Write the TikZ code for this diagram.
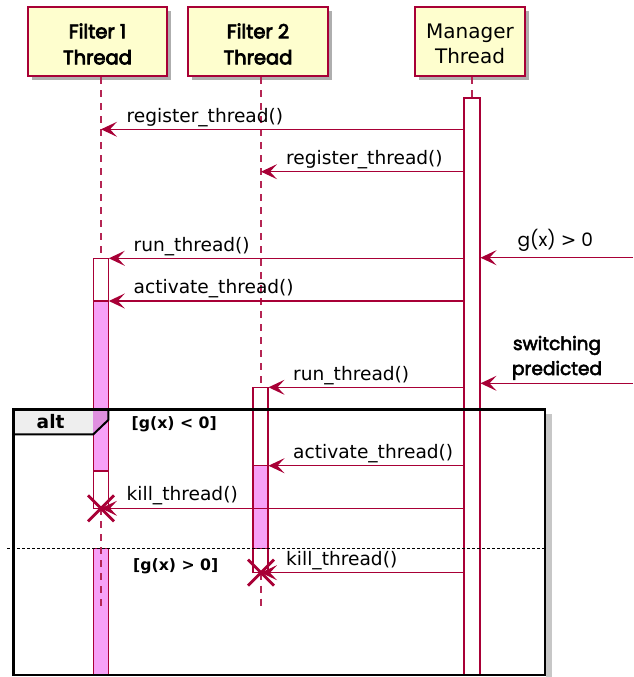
\documentclass[tikz,border=0pt]{standalone}
\usepackage{fontspec}
\setmainfont{DejaVu Sans}
\newfontfamily\pop{Poppins}[Numbers=Lining]
\newfontfamily\popm{Poppins}[FakeBold=3]
\newfontfamily\popb{Poppins}[FakeBold=4]
\usetikzlibrary{arrows.meta,shadows}
\definecolor{crim}{HTML}{A80036}
\definecolor{pfill}{HTML}{FEFECE}
\definecolor{actpink}{HTML}{F7A1F7}
\definecolor{actpinkdk}{HTML}{E090E0}
\definecolor{hdrgray}{HTML}{EEEEEE}
\tikzset{
  part/.style={draw=crim, line width=2pt, fill=pfill, inner sep=0pt,
    drop shadow={shadow xshift=4pt, shadow yshift=-4pt, opacity=.45, fill=black!70}},
  ptext/.style={align=center, inner sep=0pt},
  lifeline/.style={draw=crim!85, line width=1.4pt, dash pattern=on 7pt off 6pt},
  actbar/.style={draw=crim, line width=1.2pt, fill=white},
  pinkbar/.style={draw=crim, line width=1.2pt, fill=actpink},
  msg/.style={draw=crim, line width=1.4pt, -{Stealth[length=16pt, width=15pt, inset=7pt]}},
  lbl/.style={anchor=base west, inner sep=0pt, font=\fontsize{18.6}{22}\selectfont},
  guard/.style={anchor=base west, inner sep=0pt, font=\bfseries\fontsize{15.7}{19}\selectfont},
  killx/.style={draw=crim, line width=2.8pt},
}
\begin{document}
\begin{tikzpicture}[x=1pt,y=-1pt]
\useasboundingbox (0,0) rectangle (633,677);
% participants
\node[part, minimum width=139pt, minimum height=69pt] (p1) at (97.5,41.5) {};
\node[part, minimum width=140pt, minimum height=69pt] (p2) at (258,41.5) {};
\node[part, minimum width=110pt, minimum height=69pt] (pm) at (470,41.5) {};
\node[ptext, font=\popb\fontsize{19.5}{26}\selectfont] (p1t) at ([yshift=-2.5pt]p1.center) {Filter 1\\Thread};
\node[ptext, font=\popb\fontsize{19.5}{26}\selectfont] (p2t) at ([yshift=-2.5pt]p2.center) {Filter 2\\Thread};
\node[ptext, font=\fontsize{20}{25}\selectfont] (pmt) at ([yshift=-2pt]pm.center) {Manager\\Thread};
% lifelines
\coordinate (l1top) at (101,77);
\coordinate (l2top) at (261,77);
\coordinate (lmtop) at (472,77);
\coordinate (l1act) at (101,258.3);
\coordinate (l2act) at (261,387.3);
\coordinate (lmact) at (472,98);
\draw[lifeline] (l1top) -- (l1act);
\draw[lifeline] (l2top) -- (l2act);
\draw[lifeline] (lmtop) -- (lmact);
% frame shadow
\fill[black!22] (546,414) rectangle (551.5,677);
% activation bars
\draw[actbar] (464,98) rectangle (480,675);
\draw[actbar] (93.3,258.3) rectangle (108.3,508.3);
\draw[actbar] (253,387.3) rectangle (268,572.7);
\draw[pinkbar] (93.3,301) rectangle (108.3,471);
\draw[pinkbar] (253,465.7) rectangle (268,548.3);
\draw[pinkbar] (93.3,548.3) rectangle (108.3,675);
% alt frame
\fill[hdrgray] (13.3,409.3) -- (108.3,409.3) -- (108.3,420) -- (93.3,434.3) -- (13.3,434.3) -- cycle;
\begin{scope}
\clip (13.3,409.3) -- (108.3,409.3) -- (108.3,420) -- (93.3,434.3) -- (13.3,434.3) -- cycle;
\fill[actpinkdk] (93.3,409.3) rectangle (108.3,434.3);
\end{scope}
\draw[line width=2pt] (108.3,409.3) -- (108.3,420) -- (93.3,434.3) -- (13.3,434.3);
\draw[line width=2.8pt] (13.3,409.3) rectangle (545,675);
\node[anchor=base west, inner sep=0pt, font=\bfseries\fontsize{18.6}{22}\selectfont] (alt) at (36.5,428.3) {alt};
\node[guard] (g1) at (131.5,428.3) {[g(x) < 0]};
\draw[line width=1.2pt, dash pattern=on 2.5pt off 2.5pt] (7,548.3) -- (545,548.3);
\node[guard] (g2) at (133,570) {[g(x) > 0]};
% lifelines after destroy
\coordinate (x1) at (101,508.3);
\coordinate (x2) at (261,572.7);
\coordinate (e1) at (101,607);
\coordinate (e2) at (261,607);
\draw[lifeline] (x1) -- (e1);
\draw[lifeline] (x2) -- (e2);
% messages
\coordinate (m1) at (464,129.3); \coordinate (t1) at (101,129.3);
\draw[msg] (m1) -- (t1);
\node[lbl] (lb1) at (126.5,122) {register\_thread()};
\coordinate (m2) at (464,171.7); \coordinate (t2) at (261,171.7);
\draw[msg] (m2) -- (t2);
\node[lbl] (lb2) at (286,164.5) {register\_thread()};
\coordinate (in1) at (633,257.7); \coordinate (mi1) at (480.5,257.7);
\draw[msg] (in1) -- (mi1);
\node[anchor=base west, inner sep=0pt, font=\pop\fontsize{18.5}{22}\selectfont] (lg) at (517.5,246) {g(x) {\fontspec{DejaVu Sans}>} 0};
\coordinate (m3) at (464,258.3); \coordinate (t3) at (108.8,258.3);
\draw[msg] (m3) -- (t3);
\node[lbl] (lb3) at (133.5,251.2) {run\_thread()};
\coordinate (m4) at (464,301); \coordinate (t4) at (108.8,301);
\draw[msg] (m4) -- (t4);
\node[lbl] (lb4) at (133.5,293.8) {activate\_thread()};
\coordinate (in2) at (633,383.3); \coordinate (mi2) at (480.5,383.3);
\draw[msg] (in2) -- (mi2);
\node[inner sep=0pt, align=center, font=\popm\fontsize{18.5}{25}\selectfont, anchor=base] (ls) at (557,375) {switching\\predicted};
\coordinate (m5) at (464,387.3); \coordinate (t5) at (268.5,387.3);
\draw[msg] (m5) -- (t5);
\node[lbl] (lb5) at (293,380) {run\_thread()};
\coordinate (m6) at (464,465.7); \coordinate (t6) at (268.5,465.7);
\draw[msg] (m6) -- (t6);
\node[lbl] (lb6) at (293,458.3) {activate\_thread()};
\coordinate (m7) at (464,508.3);
\draw[msg] (m7) -- (x1);
\node[lbl] (lb7) at (126.5,500.8) {kill\_thread()};
\coordinate (m8) at (464,572.7);
\draw[msg] (m8) -- (x2);
\node[lbl] (lb8) at (286,565.2) {kill\_thread()};
% destroy marks
\draw[killx] ([shift={(-13,-13)}]x1) -- ([shift={(13,13)}]x1);
\draw[killx] ([shift={(-13,13)}]x1) -- ([shift={(13,-13)}]x1);
\draw[killx] ([shift={(-13,-13)}]x2) -- ([shift={(13,13)}]x2);
\draw[killx] ([shift={(-13,13)}]x2) -- ([shift={(13,-13)}]x2);
\end{tikzpicture}
\end{document}
